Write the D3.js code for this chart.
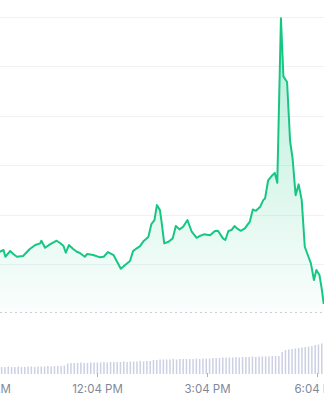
<!DOCTYPE html>
<html>
<head>
<meta charset="utf-8">
<script src="https://cdn.jsdelivr.net/npm/d3@7"></script>
<style>
  html, body { margin: 0; padding: 0; background: #fff; }
  svg { display: block; }
  .axis text { font-family: Inter, "Noto Sans", sans-serif; font-size: 11.5px; fill: #7f889a; }
</style>
</head>
<body>
<div id="chart"></div>
<script>
var width = 324;
var height = 400;

// price readings (clock time, price)
var priceTimes = ['09:25','09:31','09:34','09:42','09:47','09:53','10:03','10:14','10:23','10:31',
  '10:33','10:39','10:47','10:58','11:03','11:09','11:13','11:18','11:25','11:31',
  '11:36','11:44','11:48','11:58','12:09','12:15','12:22','12:31','12:36','12:43',
  '12:50','12:58','13:03','13:09','13:14','13:20','13:28','13:33','13:38','13:42',
  '13:47','13:50','13:54','14:01','14:08','14:13','14:19','14:25','14:32','14:39',
  '14:47','14:52','14:59','15:09','15:17','15:22','15:30','15:34','15:39','15:44',
  '15:49','15:53','15:59','16:06','16:11','16:14','16:19','16:24','16:31','16:36',
  '16:39','16:44','16:51','16:55','16:59','17:05','17:09','17:15','17:20','17:24',
  '17:29','17:34','17:39','17:44','17:50','17:54','17:59','18:03','18:08','18:12','18:15'];
var priceValues = [52.48,52.83,51.47,52.63,52.02,51.47,51.62,53.03,53.84,54.18,
  54.71,53.29,53.98,54.71,54.30,53.70,52.28,53.84,53.03,52.48,
  52.22,51.47,52.02,51.82,51.35,51.47,52.42,51.82,50.67,49.05,
  49.80,50.61,52.63,53.17,53.58,54.59,55.45,58.08,58.89,61.92,
  60.91,58.22,54.18,54.51,55.19,57.68,57.01,57.54,58.89,56.53,
  55.31,55.66,56.00,55.80,56.67,56.73,55.19,54.85,56.67,56.87,
  57.68,57.21,56.73,57.21,58.08,58.55,61.05,60.77,61.58,62.93,
  63.27,66.91,67.98,68.44,66.42,99.74,87.98,86.83,74.85,71.41,
  63.94,66.12,62.93,53.49,51.47,50.14,46.77,48.79,47.78,44.75,41.92];

var openPrice = 40.3;
var gridPrices = [50, 60, 70, 80, 90, 100];

// volume bars, one every few minutes from the first bar time
var volumeStart = '09:28';
var volumeStepMinutes = 5.4;
var volumeValues = [7,7,7.5,7,7,7.5,7,7,7.5,7.5,7,7.5,7.5,7.5,8,7.5,8,8,8,8.5,
  10.5,11,11,11,11.5,11,11,11.5,11.5,11.5,11.5,12,11.5,12,12,12,12,12.5,12,12.5,12.5,12.5,13,12.5,13,13,
  14,14,14.5,14.5,14.5,14.5,15,14.5,15,15,15,15,15,15.5,15,15.5,15.5,15.5,16,16,
  16,16.5,16.5,16.5,16.5,17,16.5,17,17,17,17.5,17,17.5,17.5,17.5,17.5,18,18,18,
  22,24,24.5,25,25.5,26,26.5,27,27.5,28,29,29.5,30.5];

var tickTimes = ['09:04','12:04','15:04','18:04'];
var tickLabels = ['9:04 AM','12:04 PM','3:04 PM','6:04 PM'];

var parse = d3.timeParse('%Y-%m-%d %H:%M');
function toDate(s) { return parse('2024-01-01 ' + s); }

var priceData = priceTimes.map(function (t, i) {
  return { date: toDate(t), value: priceValues[i] };
});
var vStart = toDate(volumeStart);
var volumeData = volumeValues.map(function (v, i) {
  return { date: new Date(vStart.getTime() + i * volumeStepMinutes * 60000), value: v };
});

var x = d3.scaleTime()
  .domain([toDate('09:04'), toDate('18:04')])
  .range([-13, 317]);
var y = d3.scaleLinear().domain([50, 100]).range([264, 17]);
var yVol = d3.scaleLinear().domain([0, 34]).range([374, 340]);

var svg = d3.select('#chart').append('svg')
  .attr('width', width)
  .attr('height', height);

var defs = svg.append('defs');
var grad = defs.append('linearGradient')
  .attr('id', 'areaFill')
  .attr('gradientUnits', 'userSpaceOnUse')
  .attr('x1', 0).attr('x2', 0)
  .attr('y1', y(100)).attr('y2', y(openPrice));
grad.append('stop').attr('offset', '0%').attr('stop-color', '#16c784').attr('stop-opacity', 0.32);
grad.append('stop').attr('offset', '100%').attr('stop-color', '#16c784').attr('stop-opacity', 0.02);

// grid
svg.append('g').selectAll('line')
  .data(gridPrices)
  .enter().append('line')
  .attr('x1', 0).attr('x2', width)
  .attr('y1', function (d) { return Math.round(y(d)) + 0.5; })
  .attr('y2', function (d) { return Math.round(y(d)) + 0.5; })
  .attr('stroke', '#eff1f5')
  .attr('stroke-width', 1.2);

// open price dotted line
svg.append('line')
  .attr('x1', 0).attr('x2', width)
  .attr('y1', Math.round(y(openPrice)) + 0.5)
  .attr('y2', Math.round(y(openPrice)) + 0.5)
  .attr('stroke', '#c9ced8')
  .attr('stroke-dasharray', '2,3');

// area + line
var area = d3.area()
  .x(function (d) { return x(d.date); })
  .y0(y(openPrice))
  .y1(function (d) { return y(d.value); });
var line = d3.line()
  .x(function (d) { return x(d.date); })
  .y(function (d) { return y(d.value); });

svg.append('path')
  .datum(priceData)
  .attr('d', area)
  .attr('fill', 'url(#areaFill)');

svg.append('path')
  .datum(priceData)
  .attr('d', line)
  .attr('fill', 'none')
  .attr('stroke', '#16c784')
  .attr('stroke-width', 2)
  .attr('stroke-linejoin', 'round');

// volume
svg.append('g').selectAll('rect')
  .data(volumeData)
  .enter().append('rect')
  .attr('x', function (d) { return x(d.date) - 0.75; })
  .attr('width', 1.5)
  .attr('y', function (d) { return yVol(d.value); })
  .attr('height', function (d) { return yVol(0) - yVol(d.value); })
  .attr('fill', '#ccd0e3');

// x axis
var xAxis = d3.axisBottom(x)
  .tickValues(tickTimes.map(toDate))
  .tickFormat(function (d, i) { return tickLabels[i]; })
  .tickSize(4)
  .tickPadding(8);

var gx = svg.append('g')
  .attr('class', 'axis')
  .attr('transform', 'translate(0,373)')
  .call(xAxis);
gx.select('.domain').remove();
gx.selectAll('.tick line').attr('stroke', '#aab0bd');
</script>
</body>
</html>
